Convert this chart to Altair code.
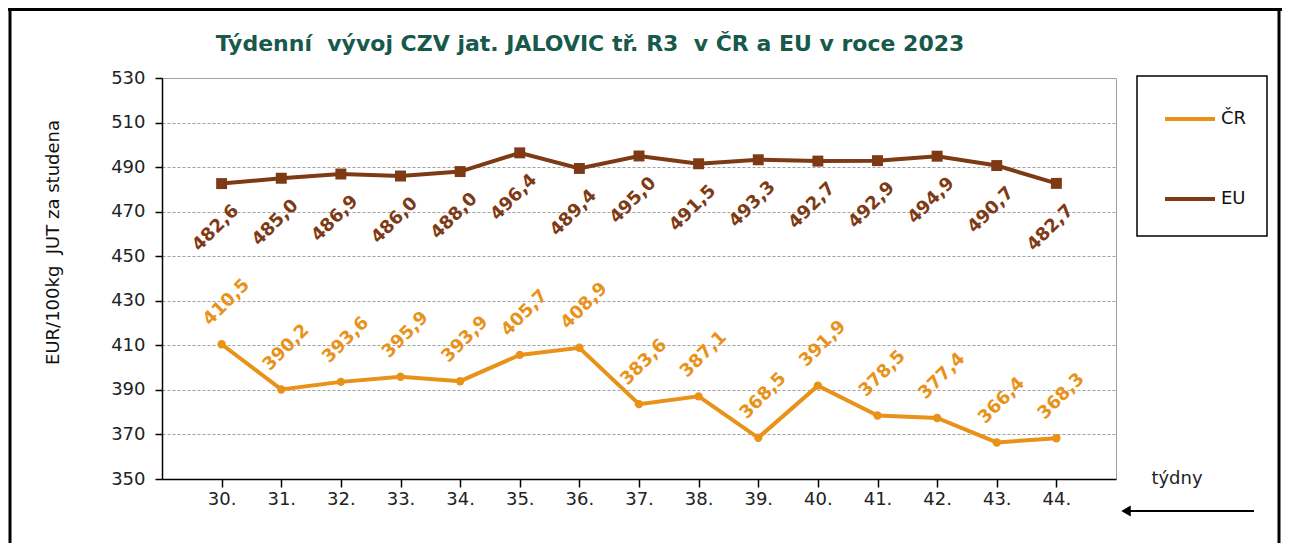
import altair as alt
import pandas as pd

weeks = ["30.", "31.", "32.", "33.", "34.", "35.", "36.", "37.", "38.", "39.", "40.", "41.", "42.", "43.", "44."]
cr_values = [410.5, 390.2, 393.6, 395.9, 393.9, 405.7, 408.9, 383.6, 387.1, 368.5, 391.9, 378.5, 377.4, 366.4, 368.3]
eu_values = [482.6, 485.0, 486.9, 486.0, 488.0, 496.4, 489.4, 495.0, 491.5, 493.3, 492.7, 492.9, 494.9, 490.7, 482.7]
series_names = ["ČR", "EU"]
y_ticks = [350, 370, 390, 410, 430, 450, 470, 490, 510, 530]
title_text = "Týdenní\u00a0 vývoj CZV jat. JALOVIC tř. R3\u00a0 v ČR a EU v roce 2023"
y_title = "EUR/100kg\u00a0 JUT za studena"
x_note = "týdny"

COL_CR = "#E8921A"
COL_EU = "#7D3A14"
FONT = "DejaVu Sans"

rows = []
for s, vals in zip(series_names, [cr_values, eu_values]):
    for w, v in zip(weeks, vals):
        rows.append({"week": w, "series": s, "value": v,
                     "label": f"{v:.1f}".replace(".", ",")})
df = pd.DataFrame(rows)

x = alt.X("week:O", sort=weeks, scale=alt.Scale(type="point", padding=1),
          axis=alt.Axis(title=None, labelAngle=0, domainColor="black", domainWidth=1.5,
                        tickColor="black", tickSize=8, tickWidth=1.5, labelPadding=3,
                        labelFont=FONT, labelFontSize=18, labelColor="#222",
                        gridColor="#a0a0a0", gridDash=[3, 2], gridWidth=1))
y = alt.Y("value:Q", scale=alt.Scale(domain=[350, 530], nice=False, zero=False),
          axis=alt.Axis(values=y_ticks, title=y_title, domainColor="black", domainWidth=1.5,
                        tickColor="black", tickSize=7, tickWidth=1.5, labelPadding=10,
                        labelFont=FONT, labelFontSize=18, labelColor="#222",
                        gridColor="#a0a0a0", gridDash=[3, 2], gridWidth=1,
                        titleFont=FONT, titleFontSize=18, titleFontWeight="normal",
                        titleColor="#111", titleX=-109, titleY=164, titleAngle=270,
                        titleAlign="center", titleBaseline="middle"))

base = alt.Chart(df)

lines = base.mark_line(strokeWidth=4).encode(
    x=x, y=y,
    color=alt.Color("series:N", scale=alt.Scale(domain=series_names, range=[COL_CR, COL_EU]),
                    legend=alt.Legend(title=None, orient="none", legendX=1000, legendY=14,
                                      symbolType="stroke", symbolSize=2500, symbolStrokeWidth=4,
                                      labelFont=FONT, labelFontSize=18, labelColor="#111",
                                      padding=0, rowPadding=44,
                                      symbolOffset=1, labelOffset=4)),
)
pts_cr = base.transform_filter(alt.datum.series == "ČR").mark_circle(
    size=70, color=COL_CR, opacity=1).encode(x=x, y=y)
pts_eu = base.transform_filter(alt.datum.series == "EU").mark_square(
    size=120, color=COL_EU, opacity=1).encode(x=x, y=y)
txt_cr = base.transform_filter(alt.datum.series == "ČR").mark_text(
    angle=315, radius=42, theta=0.12, font=FONT, fontSize=18, fontWeight="bold",
    color=COL_CR).encode(x=x, y=y, text="label:N")
txt_eu = base.transform_filter(alt.datum.series == "EU").mark_text(
    angle=315, radius=45, theta=3.27, font=FONT, fontSize=18, fontWeight="bold",
    color=COL_EU).encode(x=x, y=y, text="label:N")

one = pd.DataFrame({"t": [title_text], "n": [x_note]})
title = alt.Chart(one).mark_text(font=FONT, fontSize=22, fontWeight="bold", color="#17594A",
                                 align="center", baseline="middle").encode(
    x=alt.value(428), y=alt.value(-34), text="t:N")
note = alt.Chart(one).mark_text(font=FONT, fontSize=18, color="#222",
                                align="center", baseline="middle").encode(
    x=alt.value(1015), y=alt.value(401), text="n:N")
legend_box = alt.Chart(one).mark_rect(fill="white", fillOpacity=0, stroke="black",
                                      strokeWidth=1.5).encode(
    x=alt.value(975), x2=alt.value(1105), y=alt.value(-2), y2=alt.value(158))
arrow_line = alt.Chart(one).mark_rule(color="black", strokeWidth=2).encode(
    x=alt.value(966), x2=alt.value(1092), y=alt.value(433))
arrow_head = alt.Chart(one).mark_point(shape="triangle-left", filled=True, size=120,
                                       color="black", opacity=1).encode(
    x=alt.value(964), y=alt.value(433))
top_border = alt.Chart(one).mark_rule(color="black", strokeWidth=4).encode(
    x=alt.value(-154), x2=alt.value(1130), y=alt.value(-69))
left_border = alt.Chart(one).mark_rule(color="black", strokeWidth=3).encode(
    x=alt.value(-152), y=alt.value(-70), y2=alt.value(480))
right_border = alt.Chart(one).mark_rule(color="black", strokeWidth=3).encode(
    x=alt.value(1117), y=alt.value(-70), y2=alt.value(480))

chart = alt.layer(
    lines, pts_cr, pts_eu, txt_cr, txt_eu,
    title, note, legend_box, arrow_line, arrow_head, top_border, left_border, right_border,
).properties(
    width=954, height=401,
    autosize=alt.AutoSizeParams(type="none"),
    padding={"left": 154, "top": 70, "right": 166, "bottom": 64},
    background="white",
).configure_view(stroke="#a0a0a0", strokeWidth=1)

chart.save("out.html", embed_options={"renderer": "svg", "actions": False})
